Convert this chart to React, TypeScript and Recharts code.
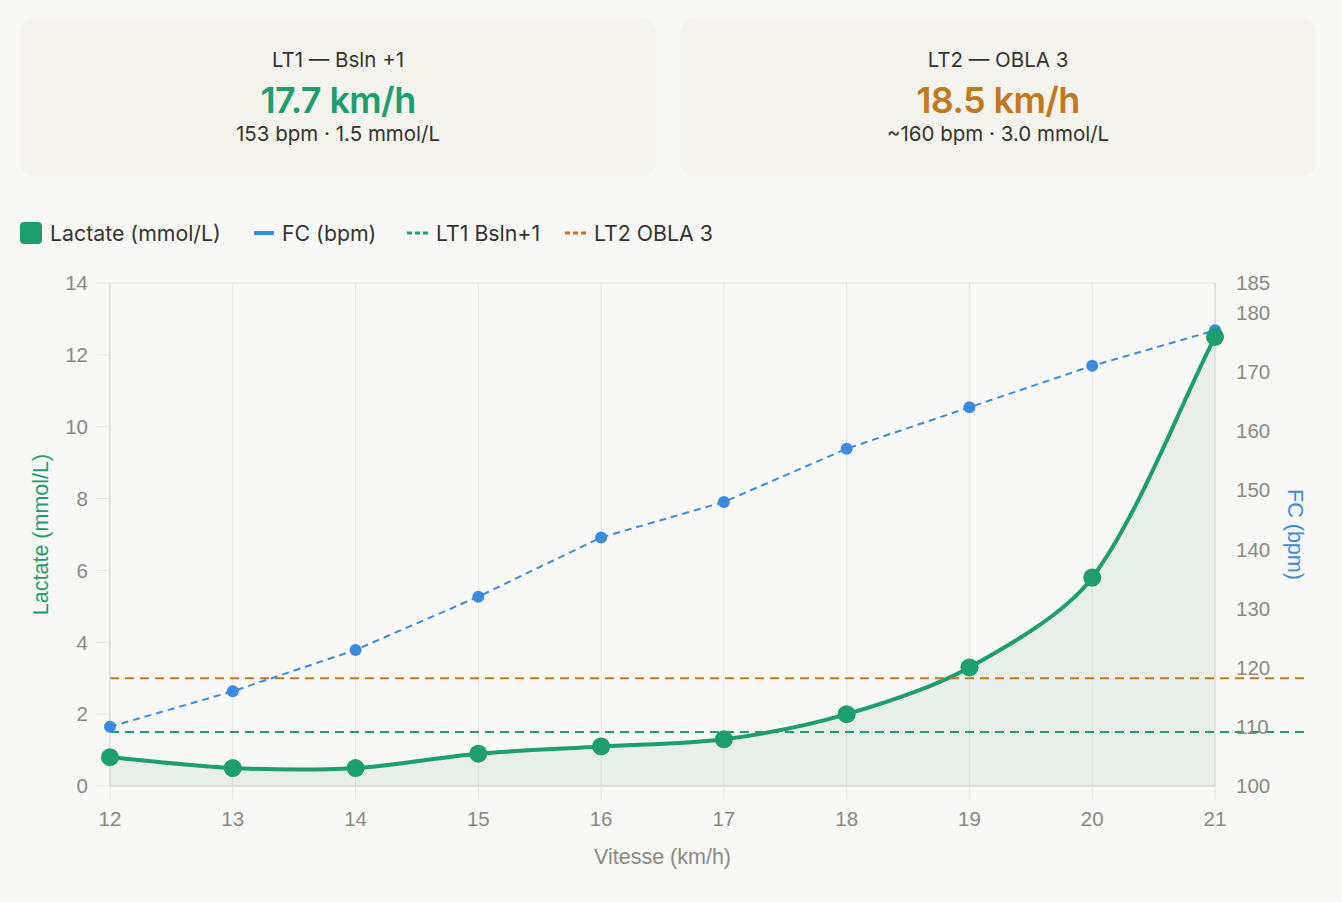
import React from "react";
import {
  ComposedChart,
  Area,
  Line,
  XAxis,
  YAxis,
  CartesianGrid,
  ReferenceLine,
} from "recharts";

const speeds = [12, 13, 14, 15, 16, 17, 18, 19, 20, 21];
const lactate = [0.8, 0.5, 0.5, 0.9, 1.1, 1.3, 2.0, 3.3, 5.8, 12.5];
const heartRate = [110, 116, 123, 132, 142, 148, 157, 164, 171, 177];
const lactateTicks = [0, 2, 4, 6, 8, 10, 12, 14];
const hrTicks = [100, 110, 120, 130, 140, 150, 160, 170, 180, 185];
const lt1 = 1.5;
const lt2 = 3.0;

const data = speeds.map((s, i) => ({
  speed: s,
  lactate: lactate[i],
  hr: heartRate[i],
}));

const GREEN = "#1c9e6f";
const BLUE = "#3a8be0";
const ORANGE = "#c2781c";
const GRID = "#e5e5e1";
const AXIS = "#d3d3cf";
const TICK = "#8a8984";
const TEXT = "#333330";
const UI_FONT = "Inter, 'Noto Sans', sans-serif";
const TICK_FONT = "'Liberation Sans', Arial, sans-serif";

// spline like chart.js tension
const splineCurve = (tension: number) => (ctx: any) => {
  let line = NaN;
  let pts: number[][] = [];
  return {
    areaStart() {
      line = 0;
    },
    areaEnd() {
      line = NaN;
    },
    lineStart() {
      pts = [];
    },
    lineEnd() {
      const n = pts.length;
      if (n) {
        if (line) ctx.lineTo(pts[0][0], pts[0][1]);
        else ctx.moveTo(pts[0][0], pts[0][1]);
        const cps = pts.map((p, i) => {
          const prev = pts[Math.max(i - 1, 0)];
          const next = pts[Math.min(i + 1, n - 1)];
          const d01 = Math.hypot(p[0] - prev[0], p[1] - prev[1]);
          const d12 = Math.hypot(next[0] - p[0], next[1] - p[1]);
          let s01 = d01 / (d01 + d12);
          let s12 = d12 / (d01 + d12);
          if (isNaN(s01)) s01 = 0;
          if (isNaN(s12)) s12 = 0;
          const fa = tension * s01;
          const fb = tension * s12;
          return {
            px: p[0] - fa * (next[0] - prev[0]),
            py: p[1] - fa * (next[1] - prev[1]),
            nx: p[0] + fb * (next[0] - prev[0]),
            ny: p[1] + fb * (next[1] - prev[1]),
          };
        });
        for (let i = 0; i < n - 1; i++) {
          ctx.bezierCurveTo(
            cps[i].nx,
            cps[i].ny,
            cps[i + 1].px,
            cps[i + 1].py,
            pts[i + 1][0],
            pts[i + 1][1]
          );
        }
      }
      if (line || (line !== 0 && n === 1)) ctx.closePath();
      line = 1 - line;
    },
    point(x: number, y: number) {
      pts.push([+x, +y]);
    },
  };
};

const longLine = (color: string) => (p: any) =>
  (
    <line
      x1={p.x1}
      y1={p.y1}
      x2={p.x2 + 95}
      y2={p.y2}
      stroke={color}
      strokeWidth={2}
      strokeDasharray="9 6"
    />
  );

const Card = ({
  title,
  value,
  sub,
  color,
  left,
}: {
  title: string;
  value: string;
  sub: string;
  color: string;
  left: number;
}) => (
  <div
    style={{
      position: "absolute",
      left,
      top: 18,
      width: 636,
      height: 158,
      borderRadius: 14,
      background: "#f4f3ed",
      textAlign: "center",
      fontFamily: UI_FONT,
      color: TEXT,
      lineHeight: "24px",
    }}
  >
    <div style={{ position: "absolute", top: 30, width: "100%", fontSize: 20.5 }}>{title}</div>
    <div
      style={{
        position: "absolute",
        top: 70,
        width: "100%",
        fontSize: 36,
        fontWeight: 600,
        color,
        letterSpacing: -0.6,
      }}
    >
      {value}
    </div>
    <div style={{ position: "absolute", top: 104, width: "100%", fontSize: 20.5 }}>{sub}</div>
  </div>
);

const LegendItem = ({ left, swatch, label }: { left: number; swatch: React.ReactNode; label: string }) => (
  <div style={{ position: "absolute", left, top: 220, height: 26, display: "flex", alignItems: "center" }}>
    {swatch}
    <span style={{ marginLeft: 8, fontSize: 21.3, color: TEXT }}>{label}</span>
  </div>
);

const dashSwatch = (color: string) => (
  <svg width={21} height={4}>
    <line x1={0} y1={2} x2={21} y2={2} stroke={color} strokeWidth={3} strokeDasharray="5 3" />
  </svg>
);

export default function App() {
  return (
    <div
      style={{
        position: "fixed",
        left: 0,
        top: 0,
        width: 1342,
        height: 902,
        background: "#f8f8f6",
        fontFamily: UI_FONT,
      }}
    >
      <Card title="LT1 — Bsln +1" value="17.7 km/h" sub="153 bpm · 1.5 mmol/L" color={GREEN} left={20} />
      <Card title="LT2 — OBLA 3" value="18.5 km/h" sub="~160 bpm · 3.0 mmol/L" color={ORANGE} left={680} />

      <LegendItem
        left={20}
        label="Lactate (mmol/L)"
        swatch={<div style={{ width: 22, height: 22, borderRadius: 4, background: GREEN }} />}
      />
      <LegendItem
        left={254}
        label="FC (bpm)"
        swatch={<div style={{ width: 20, height: 4, background: BLUE }} />}
      />
      <LegendItem left={407} label="LT1 Bsln+1" swatch={dashSwatch(GREEN)} />
      <LegendItem left={565} label="LT2 OBLA 3" swatch={dashSwatch(ORANGE)} />

      <div style={{ position: "absolute", left: 0, top: 260 }}>
        <ComposedChart
          width={1342}
          height={640}
          data={data}
          margin={{ top: 23, right: 37, left: 20, bottom: 24 }}
        >
          <CartesianGrid stroke={GRID} strokeWidth={1} />
          <XAxis
            dataKey="speed"
            type="number"
            domain={[12, 21]}
            ticks={speeds}
            interval={0}
            height={90}
            tickSize={14}
            tickMargin={11}
            tickLine={{ stroke: GRID }}
            axisLine={{ stroke: AXIS }}
            tick={{ fill: TICK, fontSize: 20.5, fontFamily: TICK_FONT }}
            label={{
              value: "Vitesse (km/h)",
              position: "insideBottom",
              offset: 12,
              fill: TICK,
              fontSize: 21.5,
              fontFamily: TICK_FONT,
            }}
          />
          <YAxis
            yAxisId="lac"
            orientation="left"
            domain={[0, 14]}
            ticks={lactateTicks}
            interval={0}
            width={90}
            tickSize={14}
            tickMargin={8}
            tickLine={{ stroke: GRID }}
            axisLine={{ stroke: AXIS }}
            tick={{ fill: TICK, fontSize: 20.5, fontFamily: TICK_FONT }}
            label={{
              value: "Lactate (mmol/L)",
              angle: -90,
              position: "insideLeft",
              offset: 20,
              fill: GREEN,
              fontSize: 21.5,
              fontFamily: TICK_FONT,
              style: { textAnchor: "middle" },
            }}
          />
          <YAxis
            yAxisId="hr"
            orientation="right"
            domain={[100, 185]}
            ticks={hrTicks}
            interval={0}
            width={90}
            tickSize={0}
            tickMargin={21}
            tickLine={false}
            axisLine={{ stroke: AXIS }}
            tick={{ fill: TICK, fontSize: 20.5, fontFamily: TICK_FONT }}
            label={{
              value: "FC (bpm)",
              angle: 90,
              position: "insideRight",
              offset: 9,
              fill: BLUE,
              fontSize: 21.5,
              fontFamily: TICK_FONT,
              style: { textAnchor: "middle" },
            }}
          />
          <ReferenceLine yAxisId="lac" y={lt1} shape={longLine(GREEN)} />
          <ReferenceLine yAxisId="lac" y={lt2} shape={longLine(ORANGE)} />
          <Line
            yAxisId="hr"
            dataKey="hr"
            type="linear"
            stroke={BLUE}
            strokeWidth={2}
            strokeDasharray="7 5"
            dot={{ r: 6, fill: BLUE, stroke: BLUE, strokeWidth: 0, strokeDasharray: "" }}
            activeDot={false}
            isAnimationActive={false}
          />
          <Area
            yAxisId="lac"
            dataKey="lactate"
            type={splineCurve(0.3) as any}
            stroke={GREEN}
            strokeWidth={4}
            fill="#8db59f"
            fillOpacity={0.15}
            baseValue={0}
            dot={{ r: 9, fill: GREEN, fillOpacity: 1, stroke: GREEN, strokeWidth: 0 }}
            activeDot={false}
            isAnimationActive={false}
          />
        </ComposedChart>
      </div>
    </div>
  );
}
